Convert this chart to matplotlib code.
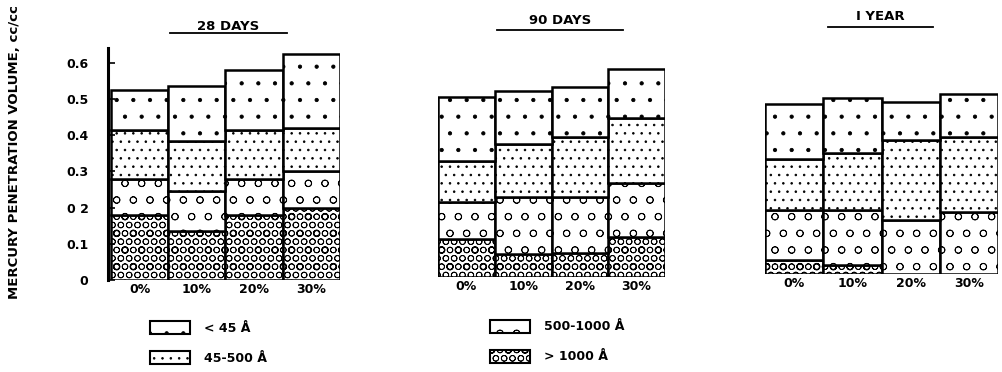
import matplotlib
matplotlib.use('Agg')
import matplotlib.pyplot as plt
from matplotlib.patches import Rectangle
from matplotlib.lines import Line2D

# Pore volume (cc/cc) per pore-size range, bars: 0%, 10%, 20%, 30%
mixes = ['0%', '10%', '20%', '30%']
ages = ['28 DAYS', '90 DAYS', 'I YEAR']
ranges = ['> 1000 Å', '500-1000 Å', '45-500 Å', '< 45 Å']

gt1000 = [[0.18, 0.135, 0.18, 0.20],
          [0.105, 0.064, 0.066, 0.11],
          [0.039, 0.025, 0.0, 0.0]]
r500_1000 = [[0.10, 0.11, 0.10, 0.10],
             [0.103, 0.158, 0.156, 0.15],
             [0.138, 0.152, 0.149, 0.172]]
r45_500 = [[0.135, 0.14, 0.135, 0.12],
           [0.112, 0.145, 0.165, 0.18],
           [0.14, 0.156, 0.221, 0.206]]
lt45 = [[0.11, 0.15, 0.165, 0.205],
        [0.178, 0.147, 0.139, 0.134],
        [0.152, 0.152, 0.106, 0.119]]

yticks = [0, 0.1, 0.2, 0.3, 0.4, 0.5, 0.6]
ytick_labels = ['0', '0.1', '0 2', '0.3', '0.4', '0.5', '0.6']

hatches = ['OOo', 'o', '..', '.']

plt.rcParams['font.family'] = 'DejaVu Sans'
plt.rcParams['font.weight'] = 'bold'
plt.rcParams['hatch.linewidth'] = 0.6

W, H = 1002, 372
fig = plt.figure(figsize=(W / 100, H / 100), dpi=100)

# panel geometry in pixels: left bar edge, right bar edge, baseline
panels = [(108, 340, 280), (438, 665, 277), (765, 998, 274)]
px_per_unit = 362
ymax = 0.64

for p, (x0, x1, base) in enumerate(panels):
    ax = fig.add_axes([x0 / W, 1 - base / H, (x1 - x0) / W, ymax * px_per_unit / H])
    ax.set_xlim(-0.5, 3.5)
    ax.set_ylim(0, ymax)
    layers = [gt1000[p], r500_1000[p], r45_500[p], lt45[p]]
    bottom = [0.0] * 4
    for layer, hatch in zip(layers, hatches):
        ax.bar(range(4), layer, width=1.0, bottom=bottom, color='white',
               edgecolor='black', linewidth=1.8, hatch=hatch)
        bottom = [b + v for b, v in zip(bottom, layer)]
    for s in ['top', 'right', 'bottom']:
        ax.spines[s].set_visible(False)
    ax.set_xticks(range(4))
    ax.set_xticklabels(mixes, fontsize=9)
    ax.tick_params(axis='x', length=0, pad=2)
    if p == 0:
        ax.set_xlim(-0.55, 3.5)
        ax.spines['left'].set_linewidth(2.2)
        ax.set_yticks(yticks)
        ax.set_yticklabels(ytick_labels, fontsize=9)
        ax.tick_params(axis='y', direction='in', length=5, width=1.2, pad=14)
    else:
        ax.spines['left'].set_visible(False)
        ax.set_yticks([])

# titles with underline
titles = [(228, 27, 33, 170, 287), (560, 20, 30, 497, 623), (880, 16, 27, 828, 933)]
for name, (cx, ty, uy, ux0, ux1) in zip(ages, titles):
    fig.text(cx / W, 1 - ty / H, name, ha='center', va='center', fontsize=9.5)
    fig.add_artist(Line2D([ux0 / W, ux1 / W], [1 - uy / H, 1 - uy / H],
                          color='black', lw=1.3))

fig.text(15 / W, 1 - 152 / H, 'MERCURY PENETRATION VOLUME, cc/cc', rotation=90,
         ha='center', va='center', fontsize=9.5)

# legend
leg_pos = [(490, 357), (490, 327), (150, 358), (150, 328)]
for name, hatch, (lx, ly) in zip(ranges, hatches, leg_pos):
    fig.add_artist(Rectangle((lx / W, 1 - (ly + 6) / H), 40 / W, 13 / H,
                             transform=fig.transFigure, facecolor='white',
                             edgecolor='black', linewidth=1.5, hatch=hatch))
    fig.text((lx + 54) / W, 1 - ly / H, name, ha='left', va='center', fontsize=9)

fig.savefig('out.png', dpi=100)
